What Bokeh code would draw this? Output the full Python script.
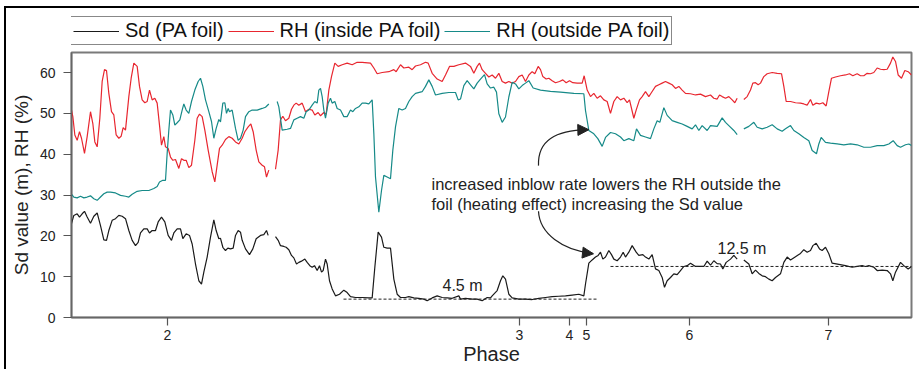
import numpy as np
from bokeh.plotting import figure
from bokeh.layouts import column
from bokeh.models import Range1d, FixedTicker, Legend, LegendItem, Arrow, NormalHead
from bokeh.core.properties import value
from bokeh.embed import file_html
from bokeh.resources import INLINE

FONT = "Liberation Sans"

# ---------------- data ----------------
phase_ticks = [288, 1344, 1494, 1545, 1854, 2271]
phase_labels = ["2", "3", "4", "5", "6", "7"]
y_ticks = [0, 10, 20, 30, 40, 50, 60]
series_names = ["Sd (PA foil)", "RH (inside PA foil)", "RH (outside PA foil)"]

sd_t = [0, 7, 17, 24, 32, 39, 47, 57, 67, 77, 87, 97, 105, 112, 122, 132, 142, 152, 162, 172,
        182, 192, 200, 207, 217, 227, 234, 242, 252, 260, 270, 280, 290, 300, 307, 317, 327, 334, 344, 354,
        362, 372, 382, 390, 397, 407, 417, 427, 434, 442, 447, 454, 462, 469, 477, 485, 492, 500, 507, 512,
        522, 534, 544, 554, 567, 577, 585, 590, 601,
        612, 620, 627, 637, 644, 652, 660, 667, 675, 682, 690, 700, 707, 715, 722, 729, 737, 744, 750, 755,
        762, 767, 774, 782, 792, 804, 817, 827, 837, 852, 872, 892, 902, 910, 920, 930, 937, 947, 957, 967,
        977, 987, 1002, 1012, 1027, 1042, 1057, 1067, 1082, 1097, 1112, 1127, 1142, 1162, 1167, 1182, 1202, 1217, 1232, 1247,
        1257, 1262, 1277, 1287, 1294, 1302, 1312, 1322, 1342, 1362, 1382, 1402, 1422, 1442, 1462, 1482, 1502, 1522, 1537, 1542,
        1552, 1562, 1572, 1580, 1587, 1594, 1602, 1612, 1620, 1627, 1637, 1647, 1655, 1662, 1672, 1682, 1694, 1702, 1714, 1722,
        1732, 1742, 1752, 1762, 1772, 1779, 1787, 1797, 1807, 1817, 1827, 1837, 1847, 1857, 1872, 1887, 1897, 1907, 1917, 1927,
        1937, 1947, 1954, 1964, 1977, 1987, 1997, 2007,
        2017, 2032, 2042, 2052, 2062, 2072, 2082, 2092, 2102, 2112, 2127, 2137, 2147, 2157, 2172, 2187, 2197, 2207, 2217, 2224,
        2234, 2244, 2252, 2262, 2272, 2282, 2302, 2322, 2342, 2357, 2372, 2382, 2392, 2407, 2417, 2432, 2447, 2457, 2464, 2472,
        2487, 2497, 2510, 2520]
sd_val = [23.0, 25.0, 25.4, 24.6, 25.4, 26.0, 24.6, 23.1, 24.8, 25.6, 22.5, 19.0, 18.9, 21.3, 23.8, 24.2, 25.0, 24.8, 24.2, 21.3,
          18.9, 17.6, 18.4, 20.7, 21.7, 21.7, 20.7, 21.3, 21.3, 23.4, 24.6, 23.4, 20.1, 18.9, 20.7, 21.7, 21.7, 19.3, 20.5, 20.1,
          18.0, 13.1, 9.0, 8.2, 11.1, 14.8, 19.7, 23.9, 21.3, 19.3, 19.4, 17.2, 16.4, 17.0, 16.8, 17.0, 20.1, 21.3, 20.9, 18.9,
          16.8, 15.4, 16.8, 19.3, 20.1, 20.3, 21.3, 20.1, None,
          19.8, 18.9, 17.6, 17.4, 17.2, 16.6, 15.2, 14.6, 13.1, 13.5, 13.8, 14.3, 13.5, 12.7, 12.3, 12.7, 11.5, 12.7, 11.1, 11.5,
          14.3, 13.1, 9.0, 7.0, 5.3, 5.7, 6.7, 6.1, 5.1, 4.9, 4.9, 4.8, 4.8, 12.3, 20.9, 19.7, 17.2, 17.0, 17.0, 9.4,
          5.7, 4.9, 4.9, 5.1, 4.8, 4.7, 4.5, 4.1, 4.8, 5.3, 4.9, 4.8, 4.7, 5.3, 4.5, 4.7, 4.5, 4.5, 4.1, 4.9,
          4.8, 5.3, 6.6, 9.0, 10.2, 9.4, 5.7, 4.8, 4.5, 4.5, 4.4, 4.7, 4.9, 5.1, 5.2, 5.3, 5.5, 5.7, 5.3, 8.2,
          13.3, 14.1, 14.8, 15.2, 16.0, 14.3, 14.8, 16.4, 15.4, 14.3, 13.9, 14.8, 16.0, 14.8, 16.0, 17.6, 16.0, 15.2, 15.4, 14.8,
          14.3, 15.4, 11.9, 11.5, 9.8, 7.4, 9.0, 9.8, 10.7, 10.5, 11.5, 12.5, 12.7, 13.3, 12.5, 12.5, 12.5, 13.8, 12.8, 13.9,
          13.2, 13.1, 11.9, 13.5, 14.3, 15.2, 14.3, None,
          14.1, 13.1, 10.7, 11.6, 10.8, 10.2, 10.0, 9.4, 9.0, 9.8, 10.7, 13.5, 14.8, 14.1, 14.9, 15.7, 16.6, 16.0, 16.4, 17.6,
          18.2, 16.8, 16.4, 17.2, 15.6, 13.3, 13.0, 12.7, 12.3, 12.5, 12.7, 12.5, 12.7, 12.3, 11.5, 11.6, 11.5, 10.7, 9.0, 11.1,
          13.5, 12.7, 11.9, 12.5]

rh_in_t = [0, 4, 10, 17, 24, 30, 39, 47, 57, 64, 70, 77, 85, 92, 99, 105, 112, 120, 127, 134,
           142, 149, 155, 162, 172, 179, 187, 197, 204, 212, 220, 227, 234, 242, 250, 257, 264, 270, 277, 282,
           290, 297, 304, 312, 322, 330, 337, 344, 352, 360, 370, 377, 384, 392, 400, 410, 422, 430, 437, 444,
           452, 462, 472, 482, 492, 502, 512, 520, 530, 538, 545, 554, 562, 572, 579, 585, 592, 603,
           612, 620, 627, 634, 642, 652, 660, 667, 674, 682, 692, 702, 712, 722, 730, 740, 747, 757, 764, 772,
           780, 790, 800, 812, 827, 842, 857, 872, 897, 907, 917, 932, 952, 967, 974, 987, 997, 1012, 1022, 1032,
           1047, 1062, 1070, 1082, 1097, 1112, 1122, 1134, 1147, 1162, 1182, 1197, 1207, 1217, 1224, 1232, 1242, 1252, 1262, 1272,
           1282, 1292, 1302, 1312, 1322, 1332, 1342, 1352, 1362, 1372, 1382, 1390, 1400, 1407, 1414, 1424, 1432, 1442, 1452, 1464,
           1474, 1484, 1494, 1504, 1517, 1532, 1538, 1547, 1557, 1567, 1577, 1587, 1597, 1607, 1617, 1627, 1637, 1647, 1657, 1667,
           1674, 1687, 1694, 1704, 1712, 1722, 1732, 1740, 1752, 1762, 1772, 1782, 1792, 1802, 1812, 1822, 1832, 1842, 1857, 1872,
           1887, 1902, 1917, 1927, 1937, 1944, 1952, 1962, 1972, 1982, 1990, 1997, 2007,
           2017, 2027, 2037, 2044, 2052, 2060, 2067, 2077, 2087, 2102, 2117, 2130, 2137, 2144, 2157, 2172, 2187, 2197, 2207, 2217,
           2224, 2234, 2244, 2254, 2264, 2272, 2280, 2292, 2307, 2322, 2334, 2344, 2357, 2367, 2377, 2387, 2397, 2407, 2417, 2427,
           2437, 2447, 2457, 2464, 2472, 2480, 2490, 2500, 2510, 2520]
rh_in_val = [50.8, 49.2, 44.7, 43.4, 45.5, 43.9, 40.2, 44.3, 50.4, 47.5, 43.0, 41.8, 48.8, 57.8, 60.7, 60.5, 54.9, 50.4, 49.6, 44.7,
             43.9, 44.4, 46.5, 45.9, 54.1, 58.6, 62.3, 61.5, 56.6, 53.3, 52.6, 52.9, 55.7, 53.3, 53.7, 52.5, 47.1, 42.2, 44.3, 41.8,
             41.4, 39.3, 38.5, 38.7, 36.5, 38.9, 38.5, 38.5, 36.7, 37.3, 43.4, 48.8, 49.8, 49.2, 45.9, 41.0, 35.7, 33.2, 37.3, 41.4,
             42.2, 43.6, 44.3, 43.9, 43.0, 42.5, 43.9, 45.5, 46.7, 47.4, 45.5, 41.0, 38.1, 37.3, 36.9, 34.4, 36.1, None,
             36.3, 41.0, 48.4, 49.3, 48.2, 48.8, 51.0, 52.0, 52.5, 52.0, 52.5, 50.4, 51.0, 50.8, 49.6, 50.2, 49.4, 50.2, 49.8, 55.7,
             59.0, 62.3, 61.5, 61.9, 62.3, 61.9, 62.5, 62.5, 62.3, 61.1, 59.7, 60.0, 60.2, 60.7, 60.2, 61.9, 61.1, 61.3, 60.7, 61.6,
             61.9, 62.5, 62.3, 59.8, 58.4, 57.8, 59.4, 61.5, 61.5, 61.9, 62.3, 61.5, 59.8, 61.5, 62.3, 60.7, 59.8, 58.9, 59.4, 58.6,
             59.8, 57.8, 57.4, 57.8, 57.4, 57.8, 59.0, 59.4, 57.8, 59.4, 60.2, 59.7, 61.5, 60.7, 59.0, 58.4, 58.6, 58.0, 57.5, 57.8,
             58.2, 57.5, 58.0, 57.5, 57.4, 57.4, 59.2, 55.7, 54.1, 54.9, 53.7, 54.3, 53.3, 52.9, 50.0, 52.9, 54.1, 53.3, 53.7, 52.6,
             53.3, 48.8, 50.8, 53.3, 54.1, 55.3, 54.1, 55.1, 56.6, 57.0, 57.4, 57.8, 57.4, 57.0, 56.1, 56.6, 55.7, 54.9, 54.8, 54.5,
             54.7, 54.1, 54.5, 53.7, 53.5, 54.5, 54.1, 53.7, 54.1, 53.3, 52.6, 53.7, None,
             53.4, 54.1, 55.7, 57.4, 57.5, 57.0, 57.4, 59.0, 59.7, 60.0, 59.8, 59.7, 56.6, 52.9, 52.9, 52.6, 52.5, 52.3, 52.0, 53.4,
             52.0, 52.5, 52.3, 52.6, 51.8, 55.3, 58.6, 58.9, 59.2, 59.4, 59.7, 59.2, 59.7, 59.2, 59.2, 59.8, 59.7, 60.0, 61.1, 60.8,
             60.7, 60.8, 62.3, 63.8, 62.7, 59.4, 58.6, 60.5, 60.2, 59.4]

rh_out_t = [0, 7, 17, 27, 37, 47, 57, 67, 77, 87, 97, 107, 117, 132, 147, 162, 172, 182, 197, 212,
            232, 247, 257, 264, 274, 282, 287, 292, 297, 304, 310, 317, 325, 332, 337, 344, 352, 360, 370, 380,
            387, 394, 402, 412, 420, 427, 434, 442, 447, 454, 460, 465, 470, 474, 482, 492, 500, 507, 515, 522,
            532, 542, 557, 572, 582, 592, 605,
            617, 622, 632, 647, 657, 667, 677, 687, 697, 704, 712, 722, 730, 737, 742, 747, 752, 757, 762, 770,
            777, 782, 790, 797, 807, 817, 827, 837, 844, 852, 862, 872, 882, 892, 902, 907, 912, 922, 930, 937,
            947, 957, 964, 972, 982, 992, 1002, 1012, 1022, 1032, 1052, 1062, 1072, 1082, 1092, 1112, 1132, 1152, 1160, 1167,
            1177, 1187, 1197, 1207, 1217, 1227, 1239, 1247, 1257, 1267, 1275, 1282, 1292, 1302, 1312, 1322, 1332, 1342, 1352, 1362,
            1372, 1385, 1407, 1437, 1467, 1507, 1537, 1542, 1552, 1567, 1579, 1592, 1602, 1617, 1632, 1647, 1657, 1672, 1687, 1695,
            1707, 1722, 1737, 1747, 1757, 1765, 1777, 1787, 1802, 1817, 1832, 1847, 1862, 1872, 1882, 1892, 1907, 1917, 1937, 1952,
            1962, 1972, 1987, 1997, 2007,
            2017, 2032, 2047, 2057, 2072, 2087, 2102, 2117, 2132, 2142, 2157, 2167, 2182, 2197, 2212, 2222, 2235, 2242, 2249, 2262,
            2277, 2297, 2317, 2337, 2357, 2377, 2397, 2417, 2437, 2452, 2465, 2477, 2487, 2502, 2512, 2520]
rh_out_val = [30.2, 29.5, 29.3, 29.7, 29.3, 29.5, 29.8, 29.1, 28.7, 29.5, 30.3, 30.7, 30.7, 30.5, 29.9, 29.7, 29.5, 30.2, 30.9, 31.1,
              31.1, 31.6, 32.1, 33.2, 33.6, 33.6, 40.2, 45.9, 50.8, 49.6, 47.1, 47.7, 48.4, 50.8, 52.3, 50.8, 50.0, 52.9, 55.7, 57.8,
              58.6, 56.6, 53.3, 50.4, 48.0, 43.9, 46.3, 48.5, 47.9, 52.5, 52.6, 50.0, 51.2, 50.4, 50.8, 46.3, 43.4, 43.9, 45.9, 49.2,
              50.4, 50.8, 50.8, 51.2, 51.5, 52.3, None,
              52.9, 51.6, 45.9, 46.1, 46.3, 48.4, 48.8, 49.2, 48.8, 50.4, 50.8, 52.0, 52.9, 52.5, 55.7, 56.1, 54.1, 50.8, 48.8, 52.5,
              53.7, 52.5, 52.9, 51.2, 50.8, 49.2, 49.2, 50.8, 50.4, 51.2, 51.6, 52.5, 52.5, 52.3, 53.3, 45.1, 34.4, 25.8, 31.1, 34.8,
              34.4, 34.0, 41.0, 46.7, 51.2, 50.8, 51.2, 52.9, 54.1, 54.9, 55.3, 56.6, 58.2, 56.6, 54.5, 54.9, 55.1, 55.1, 53.3, 53.5,
              56.8, 58.0, 57.0, 56.0, 57.4, 58.4, 59.5, 57.2, 56.2, 56.4, 55.2, 49.9, 47.8, 49.1, 54.0, 57.6, 57.2, 56.0, 56.8, 57.4,
              58.0, 56.2, 55.7, 55.4, 55.2, 54.9, 54.8, 50.7, 45.8, 45.0, 43.8, 41.9, 44.1, 45.3, 45.0, 44.2, 43.3, 43.8, 43.3, 46.2,
              44.6, 44.2, 43.8, 46.2, 48.2, 47.8, 51.4, 49.5, 48.2, 47.8, 47.4, 46.8, 46.2, 47.2, 45.8, 47.0, 45.8, 47.0, 46.8, 48.9,
              47.8, 47.0, 45.8, 44.8, None,
              46.2, 46.8, 47.8, 46.6, 46.2, 46.6, 47.2, 46.2, 45.6, 46.2, 47.0, 45.8, 45.0, 44.1, 43.3, 40.9, 40.1, 42.5, 44.1, 42.9,
              42.7, 42.5, 42.3, 42.5, 42.3, 41.7, 41.7, 42.1, 42.1, 42.5, 43.3, 42.1, 41.7, 42.3, 42.5, 42.1]

# mean Sd levels (dotted reference lines)
mean_low_t = [816, 1581]
mean_low_val = [4.5, 4.5]
mean_high_t = [1617, 2520]
mean_high_val = [12.5, 12.5]

COLORS = ["#1a1a1a", "#e8262f", "#168a88"]

# ---------------- legend strip (separate small figure above the plot) ----------------
lg = figure(width=913, height=42, output_backend="svg", toolbar_location=None,
            x_axis_type=None, y_axis_type=None, x_range=Range1d(0, 1), y_range=Range1d(0, 1),
            min_border=0, min_border_left=0, min_border_right=0, min_border_top=0, min_border_bottom=0)
lg.outline_line_color = None
lg.xgrid.visible = False
lg.ygrid.visible = False
# renderers only feed the legend samples; their points lie outside the visible range
lg_renderers = [lg.line([5, 6], [5, 6], line_color=c, line_width=1.2) for c in COLORS]
legend = Legend(items=[LegendItem(label=n, renderers=[r]) for n, r in zip(series_names, lg_renderers)],
                location=(-1, 5), orientation="horizontal",
                glyph_width=46, glyph_height=20, label_height=20, label_standoff=6,
                spacing=4, padding=2, margin=0,
                border_line_color="#111111", border_line_width=1,
                label_text_font=FONT, label_text_font_size="20px", label_text_color="#111111",
                background_fill_color="white", background_fill_alpha=1)
lg.add_layout(legend)

# ---------------- main figure ----------------
p = figure(width=913, height=319, x_range=Range1d(0, 2520), y_range=Range1d(0, 64.9),
           output_backend="svg", toolbar_location=None,
           min_border_left=65, min_border_right=8, min_border_top=2, min_border_bottom=52)
p.xgrid.visible = False
p.ygrid.visible = False
p.outline_line_color = "#7a7a7a"
p.outline_line_width = 2
p.background_fill_color = "white"
p.border_fill_color = "white"

for ax in (p.xaxis[0], p.yaxis[0]):
    ax.axis_line_color = "#666666"
    ax.axis_line_width = 1.5
    ax.major_tick_line_color = "#555555"
    ax.major_tick_line_width = 1.2
    ax.major_tick_in = 0
    ax.major_tick_out = 8
    ax.minor_tick_line_color = None
    ax.major_label_text_font = FONT
    ax.major_label_text_font_size = "14px"
    ax.major_label_text_color = "#222222"
    ax.axis_label_text_font = FONT
    ax.axis_label_text_font_style = "normal"
    ax.axis_label_text_color = "#222222"

p.xaxis.ticker = FixedTicker(ticks=phase_ticks)
p.xaxis.major_label_overrides = {t: l for t, l in zip(phase_ticks, phase_labels)}
p.xaxis.major_label_standoff = 4
p.xaxis.axis_label = "Phase"
p.xaxis.axis_label_text_font_size = "20px"
p.xaxis.axis_label_standoff = 0

p.yaxis.ticker = FixedTicker(ticks=y_ticks)
p.yaxis.major_label_standoff = 8
p.yaxis.axis_label = "Sd value (m), RH (%)"
p.yaxis.axis_label_text_font_size = "19px"
p.yaxis.axis_label_standoff = 5

def arr(v):
    return np.array(v, dtype=float)

p.line(arr(sd_t), arr(sd_val), line_color=COLORS[0], line_width=1.2)
p.line(arr(rh_in_t), arr(rh_in_val), line_color=COLORS[1], line_width=1.2)
p.line(arr(rh_out_t), arr(rh_out_val), line_color=COLORS[2], line_width=1.2)

p.line(mean_low_t, mean_low_val, line_color="#222222", line_width=1, line_dash="3 2")
p.line(mean_high_t, mean_high_val, line_color="#222222", line_width=1, line_dash="3 2")

# annotation texts
txt = dict(text_font=value(FONT), text_font_size="16.5px", text_color="#222222",
           text_baseline="alphabetic", text_align="left")
p.text(x=[1080, 1080], y=[32.8, 27.9],
       text=["increased inblow rate lowers the RH outside the",
             "foil (heating effect) increasing the Sd value"], **txt)
p.text(x=[1113], y=[7.8], text=["4.5 m"], **dict(txt, text_font_size="16px"))
p.text(x=[1938], y=[16.9], text=["12.5 m"], **dict(txt, text_font_size="16px"))

# curved arrows
p.bezier(x0=[1401, 1401], y0=[37.2, 26.0], x1=[1548, 1563], y1=[46.0, 15.7],
         cx0=[1398, 1404], cy0=[43.4, 20.6], cx1=[1452, 1473], cy1=[45.8, 16.4],
         line_color="#222222", line_width=1.2)
p.add_layout(Arrow(end=NormalHead(size=11, fill_color="#222222", line_color="#222222"),
                   x_start=1500, y_start=45.9, x_end=1552, y_end=46.0, line_alpha=0))
p.add_layout(Arrow(end=NormalHead(size=11, fill_color="#222222", line_color="#222222"),
                   x_start=1510, y_start=16.1, x_end=1566, y_end=15.6, line_alpha=0))

layout = column(lg, p, spacing=0,
                styles={"margin-left": "4px", "margin-top": "6px",
                        "border-left": "2px solid black", "border-top": "2px solid black"})

open("out.html", "w").write(file_html(layout, INLINE))
